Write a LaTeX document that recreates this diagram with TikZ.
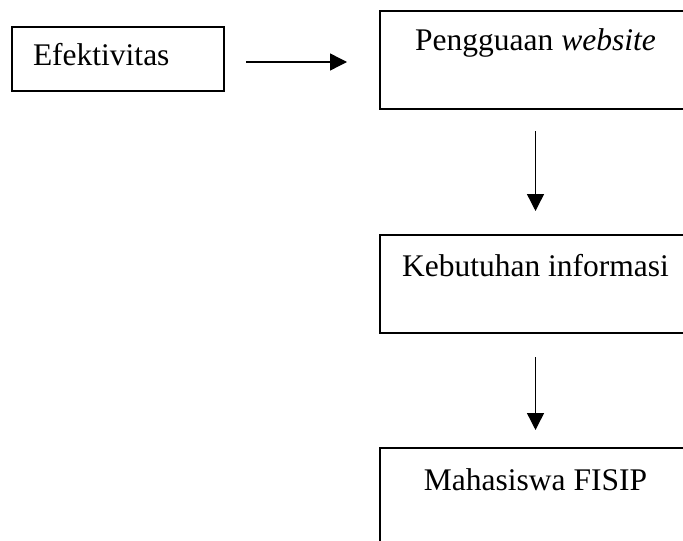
\documentclass[tikz,border=0pt]{standalone}
\usepackage{fontspec}
\setmainfont{Liberation Serif}
\usetikzlibrary{positioning,arrows.meta}

\tikzset{
  kotak/.style={draw, line width=1pt, inner sep=0pt, font=\fontsize{15.75}{18}\selectfont},
  panah/.style={line width=0.7pt, -{Triangle[length=8.5pt,width=8.5pt]}}
}

\begin{document}
\begin{tikzpicture}
\def \lebar{155.5pt};
\def \jarak{77pt};
\useasboundingbox (0,0) rectangle (341.5pt,-270pt);
\clip (0,0) rectangle (341.5pt,-270pt);
\node[kotak, anchor=north west, text width=85pt, inner xsep=10.5pt, align=left,
      text height=19.5pt, text depth=12.5pt] (efektif) at (5.5pt,-13pt) {Efektivitas};
\node[kotak, right=\jarak of efektif, yshift=-0.5pt, minimum width=\lebar,
      text height=20pt, text depth=29pt] (website) {Pengguaan \textit{website}};
\node[kotak, below=62pt of website, minimum width=\lebar,
      text height=20.5pt, text depth=28.5pt] (informasi) {Kebutuhan informasi};
\node[kotak, below=56.5pt of informasi, minimum width=\lebar,
      text height=21pt, text depth=40pt] (mahasiswa) {Mahasiswa FISIP};
\draw[panah, shorten <=10.5pt, shorten >=16pt]
  ([yshift=-1.5pt]efektif.east) -- ([yshift=-1.5pt]efektif.east -| website.west);
\draw[panah, shorten <=10.5pt, shorten >=11.5pt] (website.south) -- (informasi.north);
\draw[panah, shorten <=11.5pt, shorten >=8.5pt] (informasi.south) -- (mahasiswa.north);
\end{tikzpicture}
\end{document}
